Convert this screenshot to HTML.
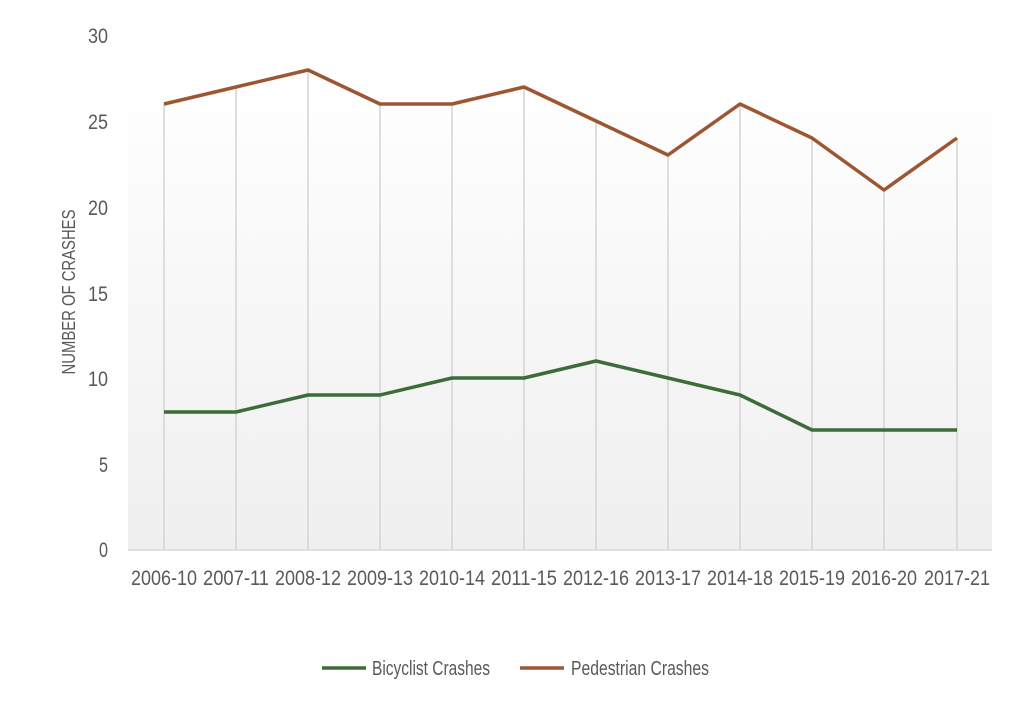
<!DOCTYPE html>
<html><head><style>
html,body{margin:0;padding:0;background:#fff;}
svg text{font-family:"Liberation Sans",sans-serif;fill:#595959;}
</style></head><body>
<svg width="1024" height="702" xmlns="http://www.w3.org/2000/svg">
<defs><linearGradient id="g" x1="0" y1="0" x2="0" y2="1"><stop offset="0" stop-color="#ffffff"/><stop offset="1" stop-color="#efefef"/></linearGradient></defs>
<rect x="128" y="70" width="864" height="480" fill="url(#g)"/>
<g stroke="#d4d4d4" stroke-width="1.5">
<line x1="164" y1="104" x2="164" y2="549"/><line x1="236" y1="87" x2="236" y2="549"/><line x1="308" y1="70" x2="308" y2="549"/><line x1="380" y1="104" x2="380" y2="549"/><line x1="452" y1="104" x2="452" y2="549"/><line x1="524" y1="87" x2="524" y2="549"/><line x1="596" y1="121" x2="596" y2="549"/><line x1="668" y1="155" x2="668" y2="549"/><line x1="740" y1="104" x2="740" y2="549"/><line x1="812" y1="138" x2="812" y2="549"/><line x1="884" y1="190" x2="884" y2="549"/><line x1="957" y1="138" x2="957" y2="549"/>
</g>
<line x1="128" y1="550" x2="992" y2="550" stroke="#d9d9d9" stroke-width="1.5"/>
<g font-size="21" text-anchor="end">
<text x="108" y="43" textLength="20" lengthAdjust="spacingAndGlyphs">30</text><text x="108" y="129" textLength="20" lengthAdjust="spacingAndGlyphs">25</text><text x="108" y="215" textLength="20" lengthAdjust="spacingAndGlyphs">20</text><text x="108" y="301" textLength="20" lengthAdjust="spacingAndGlyphs">15</text><text x="108" y="386" textLength="20" lengthAdjust="spacingAndGlyphs">10</text><text x="108" y="472" textLength="9" lengthAdjust="spacingAndGlyphs">5</text><text x="108" y="557" textLength="9" lengthAdjust="spacingAndGlyphs">0</text>
</g>
<text font-size="18" transform="translate(75,292) rotate(-90)" text-anchor="middle" textLength="165" lengthAdjust="spacingAndGlyphs">NUMBER OF CRASHES</text>
<g font-size="21" text-anchor="middle">
<text x="164" y="585" textLength="66" lengthAdjust="spacingAndGlyphs">2006-10</text><text x="236" y="585" textLength="66" lengthAdjust="spacingAndGlyphs">2007-11</text><text x="308" y="585" textLength="66" lengthAdjust="spacingAndGlyphs">2008-12</text><text x="380" y="585" textLength="66" lengthAdjust="spacingAndGlyphs">2009-13</text><text x="452" y="585" textLength="66" lengthAdjust="spacingAndGlyphs">2010-14</text><text x="524" y="585" textLength="66" lengthAdjust="spacingAndGlyphs">2011-15</text><text x="596" y="585" textLength="66" lengthAdjust="spacingAndGlyphs">2012-16</text><text x="668" y="585" textLength="66" lengthAdjust="spacingAndGlyphs">2013-17</text><text x="740" y="585" textLength="66" lengthAdjust="spacingAndGlyphs">2014-18</text><text x="812" y="585" textLength="66" lengthAdjust="spacingAndGlyphs">2015-19</text><text x="884" y="585" textLength="66" lengthAdjust="spacingAndGlyphs">2016-20</text><text x="957" y="585" textLength="66" lengthAdjust="spacingAndGlyphs">2017-21</text>
</g>
<polyline fill="none" stroke="#9c5732" stroke-width="3.5" stroke-linejoin="round" points="164,104 236,87 308,70 380,104 452,104 524,87 596,121 668,155 740,104 812,138 884,190 957,138"/>
<polyline fill="none" stroke="#3d6b3a" stroke-width="3.5" stroke-linejoin="round" points="164,412 236,412 308,395 380,395 452,378 524,378 596,361 668,378 740,395 812,430 884,430 957,430"/>
<line x1="322" y1="668" x2="366" y2="668" stroke="#3d6b3a" stroke-width="3.5"/>
<text x="372" y="675" font-size="20" textLength="118" lengthAdjust="spacingAndGlyphs">Bicyclist Crashes</text>
<line x1="520" y1="668" x2="564" y2="668" stroke="#9c5732" stroke-width="3.5"/>
<text x="571" y="675" font-size="20" textLength="138" lengthAdjust="spacingAndGlyphs">Pedestrian Crashes</text>
</svg>
</body></html>
